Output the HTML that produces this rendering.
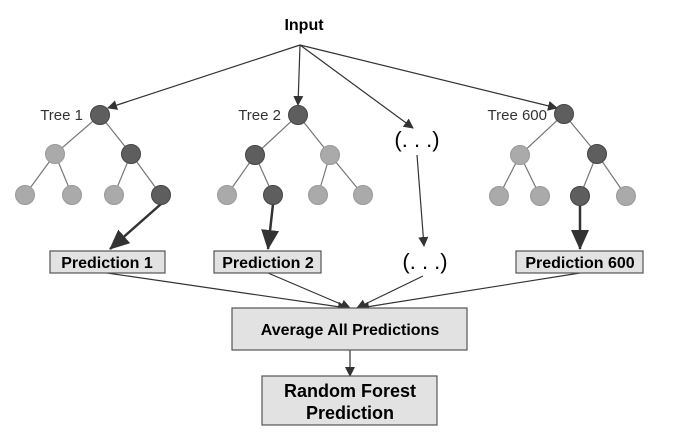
<!DOCTYPE html><html><head><style>body{margin:0;background:#fff}svg{display:block}text{font-family:"Liberation Sans",sans-serif}</style></head><body>
<svg width="677" height="444" viewBox="0 0 677 444" xmlns="http://www.w3.org/2000/svg">
<defs>
<marker id="a" markerWidth="10" markerHeight="10" refX="9" refY="5" orient="auto" markerUnits="userSpaceOnUse"><path d="M0,0L10,5L0,10z" fill="#333"/></marker>
<marker id="b" markerWidth="20" markerHeight="18" refX="19" refY="9" orient="auto" markerUnits="userSpaceOnUse"><path d="M0,0L20,9L0,18z" fill="#333"/></marker>
</defs>
<text x="304" y="30" font-size="16" font-weight="bold" text-anchor="middle" fill="#000">Input</text>
<g stroke="#333" stroke-width="1.2" fill="none" marker-end="url(#a)">
<line x1="300" y1="45" x2="108" y2="108"/>
<line x1="300" y1="45" x2="298" y2="105"/>
<line x1="300" y1="45" x2="413" y2="128"/>
<line x1="300" y1="45" x2="557" y2="108"/>
<line x1="417" y1="155" x2="424" y2="246"/>
<line x1="107" y1="273" x2="347" y2="308"/>
<line x1="268" y1="273" x2="350" y2="308"/>
<line x1="423" y1="276" x2="357" y2="308"/>
<line x1="580" y1="273" x2="360" y2="308"/>
<line x1="350" y1="350" x2="350" y2="376"/>
</g>
<g stroke="#777" stroke-width="1.2">
<line x1="100" y1="115" x2="55" y2="154"/><line x1="100" y1="115" x2="131" y2="154"/>
<line x1="55" y1="154" x2="25" y2="195"/><line x1="55" y1="154" x2="72" y2="195"/>
<line x1="131" y1="154" x2="114" y2="195"/><line x1="131" y1="154" x2="161" y2="195"/>
<line x1="298" y1="115" x2="255" y2="155"/><line x1="298" y1="115" x2="330" y2="155"/>
<line x1="255" y1="155" x2="227" y2="195"/><line x1="255" y1="155" x2="273" y2="195"/>
<line x1="330" y1="155" x2="318" y2="195"/><line x1="330" y1="155" x2="363" y2="195"/>
<line x1="564" y1="114" x2="520" y2="155"/><line x1="564" y1="114" x2="597" y2="154"/>
<line x1="520" y1="155" x2="499" y2="196"/><line x1="520" y1="155" x2="540" y2="196"/>
<line x1="597" y1="154" x2="580" y2="196"/><line x1="597" y1="154" x2="626" y2="196"/>
</g>
<g stroke="#333" stroke-width="2.5" marker-end="url(#b)">
<line x1="161" y1="204" x2="110" y2="249"/>
<line x1="273" y1="204" x2="268" y2="249"/>
<line x1="580" y1="205" x2="580" y2="249"/>
</g>
<g stroke="#444" stroke-width="1" fill="#5e5e5e">
<circle cx="100" cy="115" r="9.5"/><circle cx="131" cy="154" r="9.5"/><circle cx="161" cy="195" r="9.5"/>
<circle cx="298" cy="115" r="9.5"/><circle cx="255" cy="155" r="9.5"/><circle cx="273" cy="195" r="9.5"/>
<circle cx="564" cy="114" r="9.5"/><circle cx="597" cy="154" r="9.5"/><circle cx="580" cy="196" r="9.5"/>
</g>
<g stroke="#999" stroke-width="1" fill="#aaa">
<circle cx="55" cy="154" r="9.5"/><circle cx="25" cy="195" r="9.5"/><circle cx="72" cy="195" r="9.5"/><circle cx="114" cy="195" r="9.5"/>
<circle cx="330" cy="155" r="9.5"/><circle cx="227" cy="195" r="9.5"/><circle cx="318" cy="195" r="9.5"/><circle cx="363" cy="195" r="9.5"/>
<circle cx="520" cy="155" r="9.5"/><circle cx="499" cy="196" r="9.5"/><circle cx="540" cy="196" r="9.5"/><circle cx="626" cy="196" r="9.5"/>
</g>
<g font-size="15" fill="#333">
<text x="83" y="120" text-anchor="end">Tree 1</text>
<text x="281" y="120" text-anchor="end">Tree 2</text>
<text x="547" y="120" text-anchor="end">Tree 600</text>
</g>
<text x="417" y="147" font-size="22" text-anchor="middle" font-family="Liberation Mono">(. . .)</text>
<text x="425" y="269" font-size="22" text-anchor="middle" font-family="Liberation Mono">(. . .)</text>
<g stroke="#555" stroke-width="1.2" fill="#e2e2e2">
<rect x="50" y="251" width="115" height="22"/>
<rect x="214" y="251" width="107" height="22"/>
<rect x="516" y="251" width="127" height="22"/>
<rect x="232" y="308" width="235" height="42"/>
<rect x="262" y="376" width="175" height="49"/>
</g>
<g font-weight="bold" text-anchor="middle" fill="#000">
<text x="107" y="268" font-size="16">Prediction 1</text>
<text x="268" y="268" font-size="16">Prediction 2</text>
<text x="580" y="268" font-size="16">Prediction 600</text>
<text x="350" y="335" font-size="16">Average All Predictions</text>
<text x="350" y="397" font-size="18">Random Forest</text>
<text x="350" y="419" font-size="18">Prediction</text>
</g>
</svg></body></html>
